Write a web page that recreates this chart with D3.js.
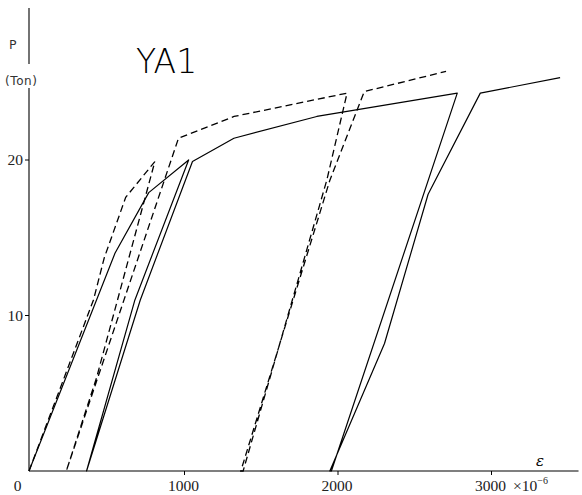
<!DOCTYPE html>
<html><head><meta charset="utf-8">
<script src="https://cdn.jsdelivr.net/npm/d3@7/dist/d3.min.js"></script>
<style>body{margin:0;background:#fff}svg{display:block}</style>
</head><body>
<svg id="c" width="582" height="495"></svg>
<script>
// strain (x10^-6) and load P (Ton) — solid specimen curve (load / unload / reload cycles)
const solidStrain = [0, 560, 780, 1040, 690, 375, 375, 725, 1065, 1335, 1875, 2790, 1970, 1960, 2316, 2600, 2940, 3460];
const solidLoad   = [0, 14, 17.9, 20, 11, 0, 0, 11, 19.9, 21.4, 22.8, 24.3, 0, 0, 8.2, 17.8, 24.3, 25.3];
// dashed specimen curve
const dashStrain = [0, 420, 490, 630, 820, 440, 243, 243, 974, 1336, 2072, 1940, 1395, 1380, 1960, 2184, 2717];
const dashLoad   = [0, 11, 13.7, 17.6, 19.9, 6, 0, 0, 21.4, 22.8, 24.3, 18.7, 0, 0, 18.7, 24.4, 25.7];
const xTicks = [0, 1000, 2000, 3000];
const yTicks = [10, 20];
const title = "YA1";

const svg = d3.select("#c");
const x = d3.scaleLinear().domain([0, 1000]).range([29, 182.5]);
const y = d3.scaleLinear().domain([0, 10]).range([471, 315.5]);

const g = svg.append("g");
// axes
g.append("line").attr("x1", x(0)).attr("x2", x(3580)).attr("y1", y(0)).attr("y2", y(0))
  .attr("stroke", "#000").attr("stroke-width", 1.1);
g.append("line").attr("x1", x(0)).attr("x2", x(0)).attr("y1", y(0)).attr("y2", 88)
  .attr("stroke", "#000").attr("stroke-width", 1.1);
g.append("line").attr("x1", x(0)).attr("x2", x(0)).attr("y1", 64).attr("y2", 8)
  .attr("stroke", "#000").attr("stroke-width", 1.1);

// x ticks
const xt = g.selectAll(".xt").data(xTicks).enter().append("g");
xt.filter(d => d > 0).append("line").attr("x1", d => x(d) + 2).attr("x2", d => x(d) + 2)
  .attr("y1", y(0)).attr("y2", y(0) + 4).attr("stroke", "#000");
xt.append("text").attr("x", d => d === 0 ? 17.5 : x(d) + 1).attr("y", 491)
  .attr("text-anchor", "middle").attr("font-family", "Liberation Serif").attr("font-size", 15.5)
  .attr("fill", "#222").text(d => d);
// x unit
const u = g.append("text").attr("x", 513).attr("y", 491).attr("font-family", "Liberation Serif")
  .attr("font-size", 15.5).attr("fill", "#222");
u.append("tspan").text("×10");
u.append("tspan").attr("dy", -7).attr("font-size", 10).text("−6");
g.append("text").attr("x", 540).attr("y", 466).attr("text-anchor", "middle")
  .attr("font-family", "DejaVu Serif").attr("font-style", "italic").attr("font-size", 15).text("ε");

// y ticks
const yt = g.selectAll(".yt").data(yTicks).enter().append("g");
yt.append("line").attr("x1", x(0) - 4).attr("x2", x(0)).attr("y1", d => y(d)).attr("y2", d => y(d))
  .attr("stroke", "#000");
yt.append("text").attr("x", 23).attr("y", d => y(d) + 5).attr("text-anchor", "end")
  .attr("font-family", "Liberation Serif").attr("font-size", 15.5).attr("fill", "#222").text(d => d);

// y label
g.append("text").attr("x", 9).attr("y", 49).attr("font-family", "DejaVu Sans")
  .attr("font-size", 12.5).attr("fill", "#333").text("P");
g.append("text").attr("x", 5).attr("y", 85).attr("font-family", "DejaVu Sans")
  .attr("font-size", 12).attr("letter-spacing", 0.6).attr("fill", "#333").text("(Ton)");
// title
g.append("text").attr("x", 136).attr("y", 73).attr("font-family", "DejaVu Sans").attr("font-weight", 200)
  .attr("font-size", 33).text(title);

const line = d3.line().x(d => x(d[0])).y(d => y(d[1]));
const solid = solidStrain.map((s, i) => [s, solidLoad[i]]);
const dash = dashStrain.map((s, i) => [s, dashLoad[i]]);
g.append("path").datum(solid).attr("d", line).attr("fill", "none").attr("stroke", "#000")
  .attr("stroke-width", 1.2).attr("stroke-linejoin", "round");
g.append("path").datum(dash).attr("d", line).attr("fill", "none").attr("stroke", "#000")
  .attr("stroke-width", 1.3).attr("stroke-dasharray", "7,4");
</script>
</body></html>
